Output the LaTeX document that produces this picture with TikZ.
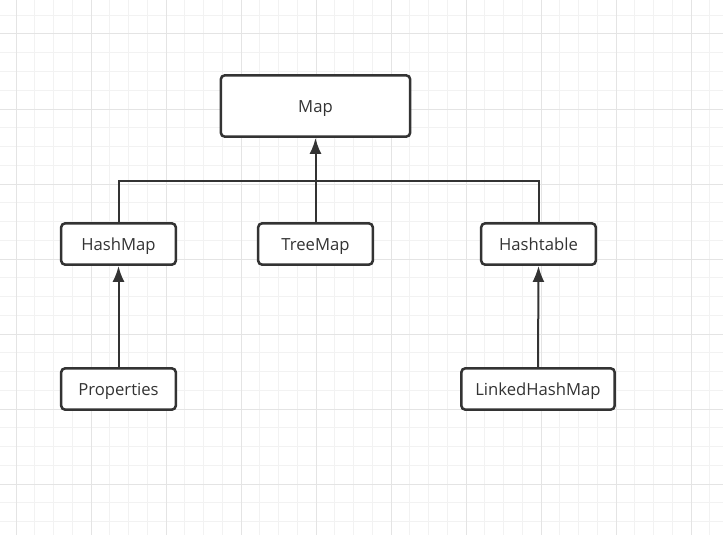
\documentclass[tikz,border=0pt]{standalone}
\usepackage{fontspec}
\setmainfont{Open Sans}
\usetikzlibrary{arrows.meta}
\definecolor{ink}{HTML}{333333}
\definecolor{gridminor}{HTML}{F2F2F2}
\definecolor{gridmajor}{HTML}{E4E4E4}

\begin{document}
\begin{tikzpicture}[x=0.75pt,y=-0.75pt,font=\fontsize{12.5pt}{14pt}\selectfont,
  cls/.style={draw=ink,fill=white,text=ink,line width=1.9pt,rounded corners=3pt,
              minimum width=86pt,minimum height=31pt,inner sep=0pt,
              text height=9pt,text depth=0pt},
  top/.style={cls,minimum width=142pt,minimum height=46pt},
  link/.style={draw=ink,line width=1.5pt},
  inh/.style={link,-{Latex[length=12pt,width=9pt]}}]

  % background grid
  \fill[white] (0,0) rectangle (723,535);
  \useasboundingbox (0,0) rectangle (723,535);
  \foreach \i in {0,...,38}{
    \draw[gridminor,line width=0.75pt] ({16+18.75*\i},0) -- ++(0,535);
  }
  \foreach \i in {0,...,28}{
    \draw[gridminor,line width=0.75pt] (0,{15.25+18.75*\i}) -- ++(723,0);
  }
  \foreach \i in {0,...,9}{
    \draw[gridmajor,line width=0.75pt] ({16+75*\i},0) -- ++(0,535);
  }
  \foreach \i in {0,...,6}{
    \draw[gridmajor,line width=0.75pt] (0,{34+75*\i}) -- ++(723,0);
  }

  % classes
  \node[top] (map) at (315.5,106) {Map};
  \node[cls] (hm) at (118.5,244) {HashMap};
  \node[cls] (tm) at (315.5,244) {TreeMap};
  \node[cls] (ht) at (538.5,244) {Hashtable};
  \node[cls] (pr) at (118.5,389) {Properties};
  \node[cls,minimum width=115pt] (lhm) at (538,389) {LinkedHashMap};
  \coordinate (bus) at (315.5,181);

  % inheritance
  \draw[link] (hm.north) |- (bus) -| (ht.north);
  \draw[inh] (tm.north) -- (map.south);
  \draw[inh] (pr.north) -- (hm.south);
  \draw[inh] (lhm.north) -- (ht.south);
\end{tikzpicture}
\end{document}
